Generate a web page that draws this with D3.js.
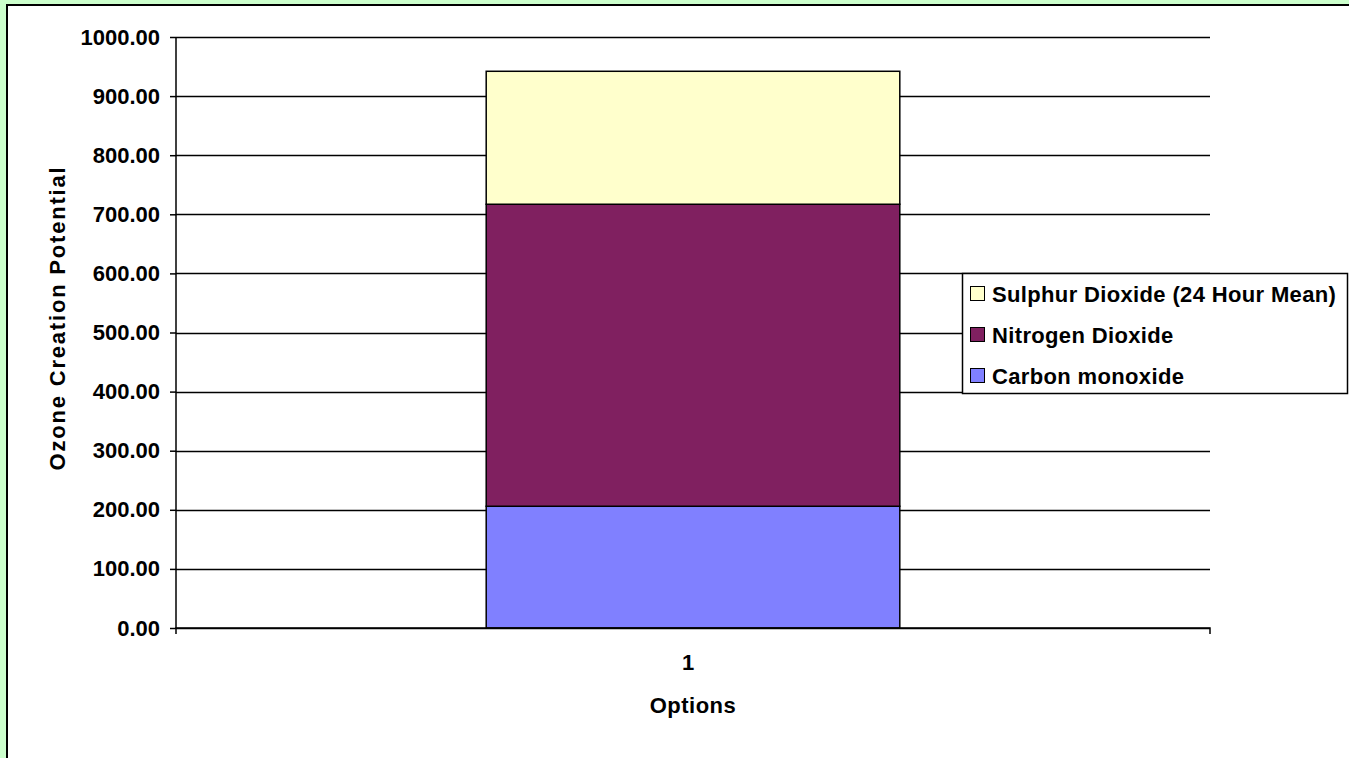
<!DOCTYPE html>
<html>
<head>
<meta charset="utf-8">
<script src="https://cdn.jsdelivr.net/npm/d3@7"></script>
<style>
html,body{margin:0;padding:0;background:#ccffcc;overflow:hidden;}
svg{display:block;}
text{font-family:"Liberation Sans",Arial,sans-serif;font-weight:bold;fill:#000;}
</style>
</head>
<body>
<script>
const categories = ["1"];
const seriesNames = ["Carbon monoxide", "Nitrogen Dioxide", "Sulphur Dioxide (24 Hour Mean)"];
const carbonMonoxide = [206];
const nitrogenDioxide = [511];
const sulphurDioxide = [225];
const yTicks = [0,100,200,300,400,500,600,700,800,900,1000];
const colors = ["#8080ff", "#802060", "#ffffcc"];

const W = 1349, H = 758;
const FS = "22px";
const svg = d3.select("body").append("svg").attr("width", W).attr("height", H);

// chart area
svg.append("rect").attr("x", 7).attr("y", 5).attr("width", W + 10).attr("height", H + 10)
  .attr("fill", "#fff").attr("stroke", "#000").attr("stroke-width", 2);

const plot = {left: 176, right: 1210, top: 37, bottom: 628};
const x = d3.scaleBand().domain(categories).range([plot.left, plot.right]).paddingInner(0.6).paddingOuter(0.3);
const y = d3.scaleLinear().domain([0, 1000]).range([plot.bottom, plot.top]);

// gridlines
svg.append("g").selectAll("line").data(yTicks).join("line")
  .attr("x1", plot.left).attr("x2", plot.right)
  .attr("y1", d => Math.round(y(d)) + 0.5).attr("y2", d => Math.round(y(d)) + 0.5)
  .attr("stroke", "#000").attr("stroke-width", 1.5);

// stacked data
const rows = categories.map((c, i) => ({cat: c, s0: carbonMonoxide[i], s1: nitrogenDioxide[i], s2: sulphurDioxide[i]}));
const stack = d3.stack().keys(["s0", "s1", "s2"])(rows);
svg.append("g").selectAll("g").data(stack).join("g")
  .attr("fill", (d, i) => colors[i])
  .selectAll("rect").data(d => d).join("rect")
  .attr("x", d => x(d.data.cat))
  .attr("width", x.bandwidth())
  .attr("y", d => y(d[1]))
  .attr("height", d => y(d[0]) - y(d[1]))
  .attr("stroke", "#000").attr("stroke-width", 1.5);

// y axis
const yAxis = d3.axisLeft(y).tickValues(yTicks).tickFormat(d3.format(".2f")).tickSize(6).tickPadding(10);
const gy = svg.append("g").attr("transform", `translate(${plot.left},0)`).call(yAxis);
gy.select(".domain").attr("stroke", "#000").attr("stroke-width", 1.5).attr("d", `M0,${plot.top}V${plot.bottom}`);
gy.selectAll(".tick line").attr("stroke", "#000").attr("stroke-width", 1.5);
gy.selectAll(".tick text").style("font-size", FS).style("font-family", "'Liberation Sans',Arial,sans-serif").style("font-weight", "bold").attr("fill", "#000");

// x axis
const xAxis = d3.axisBottom(x).tickSize(0).tickPadding(26);
const gx = svg.append("g").attr("transform", `translate(0,${plot.bottom})`).call(xAxis);
gx.select(".domain").attr("stroke", "#000").attr("stroke-width", 1.5)
  .attr("d", `M${plot.left},6V0H${plot.right}V6`);
gx.selectAll(".tick text").attr("transform", "translate(-5,0)").style("font-size", FS).style("font-family", "'Liberation Sans',Arial,sans-serif").style("font-weight", "bold").attr("fill", "#000");

// axis titles
svg.append("text").attr("x", 693).attr("y", 713)
  .attr("text-anchor", "middle").style("font-size", FS).style("letter-spacing", "0.5px").text("Options");
svg.append("text").attr("transform", `translate(65,318) rotate(-90)`)
  .attr("text-anchor", "middle").style("font-size", FS).style("letter-spacing", "1.8px").text("Ozone Creation Potential");

// legend
const lg = svg.append("g");
lg.append("rect").attr("x", 962.5).attr("y", 273.5).attr("width", 385).attr("height", 120)
  .attr("fill", "#fff").attr("stroke", "#000").attr("stroke-width", 1.5);
const legendOrder = [2, 1, 0];
const items = lg.selectAll("g.item").data(legendOrder).join("g").attr("class", "item")
  .attr("transform", (d, i) => `translate(970,${293 + i * 41})`);
items.append("rect").attr("x", 0.5).attr("y", -6.5).attr("width", 14).attr("height", 14)
  .attr("fill", d => colors[d]).attr("stroke", "#000").attr("stroke-width", 1);
items.append("text").attr("x", 22).attr("y", 1).attr("dy", "0.35em")
  .style("font-size", FS).style("letter-spacing", "0.35px").text(d => seriesNames[d]);
</script>
</body>
</html>
